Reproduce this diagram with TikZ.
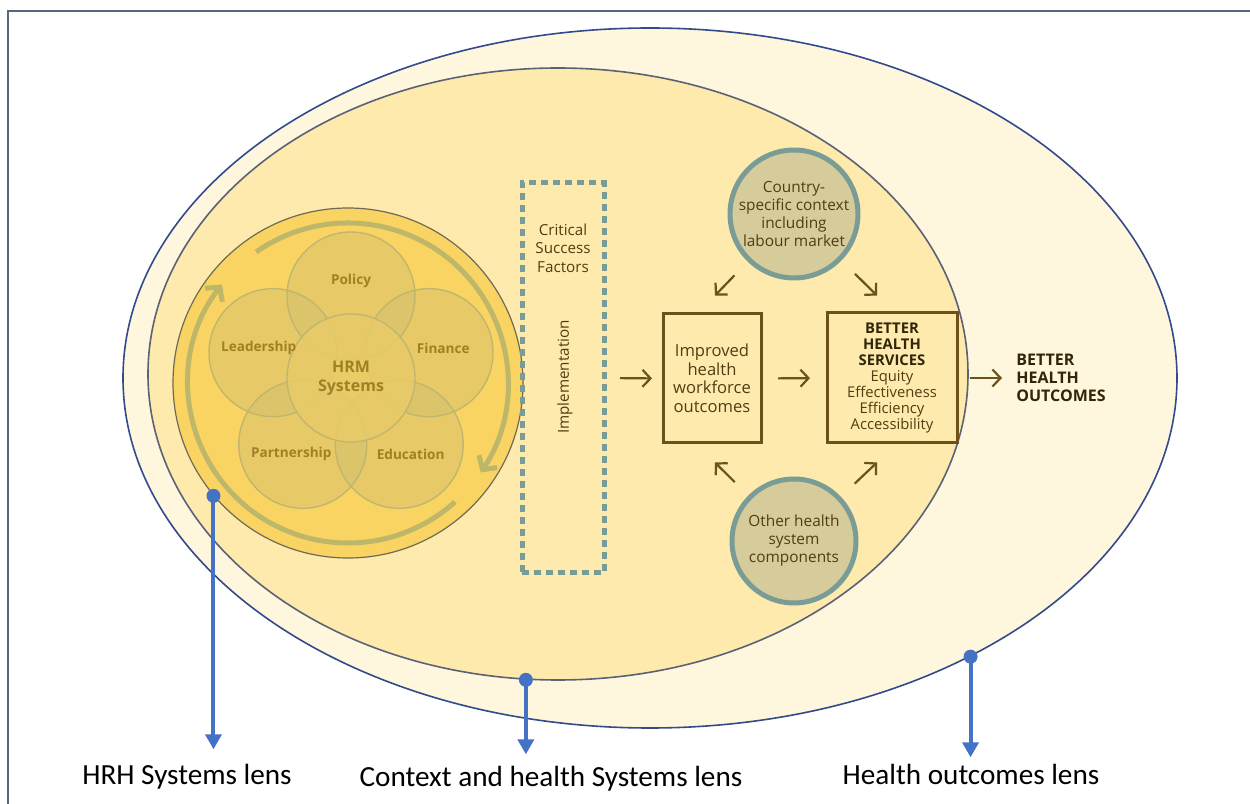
\documentclass[tikz,border=0pt]{standalone}
\usepackage{fontspec}
\setmainfont{Open Sans}
\newfontfamily\lensfont{Carlito}
\usetikzlibrary{arrows.meta, calc, shapes.geometric}

\definecolor{outerFill}{RGB}{255,246,222}
\definecolor{outerLine}{RGB}{50,75,140}
\definecolor{innerFill}{RGB}{253,234,172}
\definecolor{innerLine}{RGB}{90,98,118}
\definecolor{discFill}{RGB}{249,212,98}
\definecolor{discLine}{RGB}{110,105,90}
\definecolor{petalTone}{RGB}{200,185,115}
\definecolor{coreFill}{RGB}{232,203,104}
\definecolor{petalLine}{RGB}{192,182,110}
\definecolor{petalText}{RGB}{160,128,36}
\definecolor{ringTone}{RGB}{190,182,105}
\definecolor{csfTeal}{RGB}{122,156,150}
\definecolor{boxBrown}{RGB}{108,82,26}
\definecolor{textBrown}{RGB}{80,62,18}
\definecolor{darkBrown}{RGB}{50,38,10}
\definecolor{contextFill}{RGB}{214,203,154}
\definecolor{lensBlue}{RGB}{68,114,196}
\definecolor{frameGray}{RGB}{88,102,128}

\tikzset{
  petalCircle/.style={fill=petalTone, fill opacity=0.35},
  petalRim/.style={draw=petalLine, line width=0.7pt},
  petalLabel/.style={font=\fontsize{6.8}{8}\selectfont\bfseries, text=petalText},
  ringArrow/.style={draw=ringTone, line width=2.5pt, -{Straight Barb[length=5pt, width=11pt]}},
  flowArrow/.style={draw=boxBrown, line width=1.1pt, -{Straight Barb[length=4pt, width=8.5pt]}},
  outcomeBox/.style={draw=boxBrown, line width=1.5pt, align=center, inner sep=0pt, text=textBrown},
  contextCircle/.style={circle, fill=contextFill, draw=csfTeal, line width=2.5pt, minimum size=62pt,
    inner sep=0pt, align=center, text=textBrown, font=\fontsize{7.7}{9}\selectfont},
  lensArrow/.style={draw=lensBlue, line width=2pt, -{Triangle[length=7.5pt, width=8pt]}},
  lensLabel/.style={font=\lensfont\fontsize{14.6}{17}\selectfont, inner sep=2pt}
}

\begin{document}
\begin{tikzpicture}[x=0.5pt, y=0.5pt]
  \useasboundingbox (0,0) rectangle (1250,804);

  %% --- LENTES (ELIPSES) ---
  \node[ellipse, fill=outerFill, draw=outerLine, line width=0.8pt,
    minimum width=527pt, minimum height=350pt, inner sep=0pt] (outerLens) at (650,426) {};
  \node[ellipse, fill=innerFill, draw=innerLine, line width=0.8pt,
    minimum width=410pt, minimum height=306pt, inner sep=0pt] (innerLens) at (558,430) {};

  %% --- DISCO HRM ---
  \node[circle, fill=discFill, draw=discLine, line width=0.6pt,
    minimum size=175pt, inner sep=0pt] (hrmDisc) at (348,421) {};

  % Petalas
  \coordinate (petalC) at (351,426);
  \foreach \ang in {90,162,234,306,18}
    \fill[petalCircle] ($(petalC)+(\ang:82)$) circle (64);
  \foreach \ang in {90,162,234,306,18}
    \draw[petalRim] ($(petalC)+(\ang:82)$) circle (64);

  % Circulo central (cobre o miolo das petalas)
  \node[circle, fill=coreFill, fill opacity=0.85, text opacity=1, minimum size=64pt, inner sep=0pt,
    align=center, font=\fontsize{8}{9.5}\selectfont\bfseries, text=petalText] (hrmCore) at (petalC) {HRM\\Systems};
  \draw[petalRim] (petalC) circle (64);

  % Rotulos das petalas
  \foreach \ang/\txt in {90/Policy, 162/Leadership, 18/Finance, 232/Partnership, 308/Education}
    \node[petalLabel] (lbl-\ang) at ($(petalC)+(\ang:97)$) {\txt};

  % Setas circulares
  \draw[ringArrow] ($(hrmDisc.center)+(125:160)$) arc[start angle=125, end angle=-34, radius=160];
  \draw[ringArrow] ($(hrmDisc.center)+(-48:160)$) arc[start angle=-48, end angle=-218, radius=160];

  %% --- FATORES CRITICOS ---
  \node[draw=csfTeal, line width=2.5pt, dash pattern=on 3.5pt off 2.5pt,
    minimum width=41pt, minimum height=195pt, inner sep=0pt] (csf) at (563,426) {};
  \node[align=center, text=textBrown, font=\fontsize{7.6}{9.25}\selectfont] (csfTitle) at (563,556)
    {Critical\\Success\\Factors};
  \node[rotate=90, text=textBrown, font=\fontsize{7.6}{9}\selectfont] (csfImpl) at (565,427) {Implementation};

  %% --- RESULTADOS ---
  \node[outcomeBox, minimum width=49pt, minimum height=64.5pt,
    font=\fontsize{8.3}{9.25}\selectfont] (iwo) at (712,425.5)
    {Improved\\health\\workforce\\outcomes};
  \node[outcomeBox, minimum width=65pt, minimum height=65pt,
    font=\fontsize{7.4}{8}\selectfont] (bhs) at (892,426)
    {\textcolor{darkBrown}{\textbf{BETTER}}\\\textcolor{darkBrown}{\textbf{HEALTH}}\\
     \textcolor{darkBrown}{\textbf{SERVICES}}\\Equity\\Effectiveness\\Efficiency\\Accessibility};
  \node[anchor=west, inner sep=0pt, align=left, text=darkBrown,
    font=\fontsize{8}{9}\selectfont\bfseries] (outcomes) at (1016,426) {BETTER\\HEALTH\\OUTCOMES};

  % Contexto
  \node[contextCircle] (country) at (794,590) {Country-\\specific context\\including\\labour market};
  \node[contextCircle] (otherHs) at (794,263) {Other health\\system\\components};

  % Setas de fluxo
  \draw[flowArrow, shorten <=6.75pt, shorten >=4.75pt] (csf.east) -- (iwo.west);
  \draw[flowArrow, shorten <=7.75pt, shorten >=7.75pt] (iwo.east) -- (bhs.west);
  \draw[flowArrow, shorten <=5.75pt, shorten >=7pt] (bhs.east) -- (outcomes.west);

  \coordinate (cL) at ($(iwo.north)+(3,17)$);
  \coordinate (cR) at ($(bhs.north)+(-15,16)$);
  \coordinate (oL) at ($(iwo.south)+(3,-18)$);
  \coordinate (oR) at ($(bhs.south)+(-15,-18)$);
  \draw[flowArrow, shorten <=9.5pt] (country) -- (cL);
  \draw[flowArrow, shorten <=9.5pt] (country) -- (cR);
  \draw[flowArrow, shorten <=9.5pt] (otherHs) -- (oL);
  \draw[flowArrow, shorten <=9.5pt] (otherHs) -- (oR);

  %% --- LENTES: ROTULOS ---
  \node[lensLabel, anchor=base] (hrhLabel) at (187,19) {HRH Systems lens};
  \node[lensLabel, anchor=base] (ctxLabel) at (551,17) {Context and health Systems lens};
  \node[lensLabel, anchor=base] (hoLabel) at (971,19) {Health outcomes lens};

  \coordinate (hrhDot) at (hrmDisc.220.6);
  \coordinate (ctxDot) at (innerLens.264.7);
  \coordinate (hoDot) at (outerLens.-41);

  \draw[lensArrow, shorten >=5.5pt] (hrhDot) -- (hrhDot |- hrhLabel.north);
  \draw[lensArrow, shorten >=4pt] (ctxDot) -- (ctxDot |- ctxLabel.north);
  \draw[lensArrow, shorten >=1.5pt] (hoDot) -- (hoDot |- hoLabel.north);
  \fill[lensBlue] (hrhDot) circle (7);
  \fill[lensBlue] (ctxDot) circle (7);
  \fill[lensBlue] (hoDot) circle (7);

  % Moldura
  \draw[frameGray, line width=1pt] (8,0) -- (8,793) -- (1250,793);
\end{tikzpicture}
\end{document}
